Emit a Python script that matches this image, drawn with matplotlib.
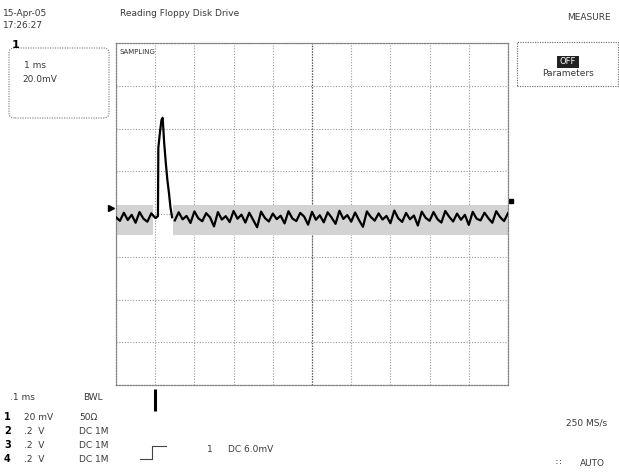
import numpy as np
import matplotlib
matplotlib.use("Agg")
import matplotlib.pyplot as plt
from matplotlib.patches import FancyBboxPatch, Rectangle

# ---------------- data (channel 1, 20 mV/div, 1 ms/div) ----------------
pre_t = [0.0, 0.1, 0.2, 0.3, 0.4, 0.5, 0.6, 0.7, 0.8, 0.9, 1.0]
pre_mv = [-1.5, -3.2, 0.6, -2.8, -0.4, -4.1, 0.9, -2.2, -3.6, 0.3, -1.8]

spike_t = [1.03, 1.07, 1.08, 1.12, 1.16, 1.19, 1.23, 1.27, 1.31, 1.35, 1.39, 1.43]
spike_mv = [-1.6, -1.0, 31.0, 38.0, 44.0, 45.0, 33.0, 24.0, 16.0, 10.0, 3.0, -1.5]

post_t = [round(1.5 + 0.1 * i, 2) for i in range(86)]
post_mv = [
    -3.0, 0.8, -2.5, -0.9, -4.2, 1.2, -2.0, -3.4, 0.4, -1.6,
    -5.8, 0.9, -2.6, -1.0, -3.8, 1.4, -2.2, -0.3, -4.0, 0.6,
    -2.8, -6.2, 1.1, -1.9, -3.5, 0.2, -2.4, -0.8, -4.4, 1.3,
    -2.1, -3.3, 0.5, -1.2, -5.0, 1.0, -2.7, -0.6, -3.9, 0.8,
    -1.7, -4.6, 1.5, -2.3, -0.5, -3.6, 0.7, -2.9, -6.0, 1.2,
    -1.4, -3.1, 0.3, -2.6, -0.9, -4.3, 1.6, -2.0, -3.7, 0.5,
    -2.5, -0.7, -5.4, 1.1, -1.8, -3.2, 0.9, -2.4, -4.0, 1.4,
    -1.3, -3.5, 0.2, -2.7, -0.4, -5.1, 1.0, -2.2, -3.0, 0.6,
    -2.0, -4.1, 1.3, -1.5, -3.3, 0.4,
]

# persistence (grey) envelope of the baseline
band_segments = [(0.0, 0.95), (1.45, 10.0)]
band_hi_mv = 4.0
band_lo_mv = -10.0

time_div_ms = 1.0
volt_div_mv = 20.0
n_xdiv = 10
n_ydiv = 8
trigger_time_ms = 1.0
trigger_level_mv = 6.0

# ---------------- figure ----------------
W, H = 619, 472
fig = plt.figure(figsize=(W / 100, H / 100), dpi=100)
fig.patch.set_facecolor("white")

L, R, T, B = 116, 508, 43, 385
ax = fig.add_axes([L / W, 1 - B / H, (R - L) / W, (B - T) / H])
ax.set_xlim(0, n_xdiv * time_div_ms)
ax.set_ylim(-n_ydiv / 2 * volt_div_mv, n_ydiv / 2 * volt_div_mv)
ax.set_xticks(np.arange(0, n_xdiv + 1) * time_div_ms)
ax.set_yticks(np.arange(-n_ydiv // 2, n_ydiv // 2 + 1) * volt_div_mv)
ax.tick_params(length=0, labelbottom=False, labelleft=False)
ax.grid(True, linestyle=(0, (1, 1.5)), color="#9a9a9a", linewidth=0.8)
for s in ax.spines.values():
    s.set_linestyle((0, (1, 1.2)))
    s.set_color("#808080")
    s.set_linewidth(0.9)
ax.axvline(n_xdiv / 2 * time_div_ms, color="#555555", lw=0.9, ls=(0, (1, 1.2)))

for a, b in band_segments:
    ax.fill_between([a, b], band_lo_mv, band_hi_mv, color="#d3d3d3", lw=0, zorder=2)

ax.plot(pre_t, pre_mv, color="black", lw=1.6, zorder=3)
ax.plot(spike_t, spike_mv, color="black", lw=1.6, zorder=3)
ax.plot(post_t, post_mv, color="black", lw=1.6, zorder=3)

# channel / trigger markers
ax.plot([-0.12], [trigger_level_mv / 2], marker=">", color="black", ms=4, clip_on=False)
ax.plot([10.08], [trigger_level_mv], marker="s", color="black", ms=2.5, clip_on=False)
ax.plot([trigger_time_ms, trigger_time_ms], [-82, -92], color="black", lw=2.2,
        clip_on=False, solid_capstyle="butt")

# ---------------- texts ----------------
fs = 6.5
tc = "#3a3a3a"


def ftext(x, y, s, **kw):
    kw.setdefault("fontsize", fs)
    kw.setdefault("color", tc)
    kw.setdefault("va", "center")
    fig.text(x / W, 1 - y / H, s, **kw)


ftext(3, 13, "15-Apr-05")
ftext(3, 26, "17:26:27")
ftext(120, 13, "Reading Floppy Disk Drive")
ftext(567, 18, "MEASURE")

# left info box
box = FancyBboxPatch((9 / W, 1 - 118 / H), 100 / W, 70 / H,
                     boxstyle="round,pad=0,rounding_size=0.01",
                     transform=fig.transFigure, fill=False,
                     ec="#777777", lw=0.8, ls=(0, (1, 1.2)))
fig.patches.append(box)
ftext(12, 45, "1", fontsize=8, color="black", fontweight="bold")
ftext(24, 66, "1 ms")
ftext(22, 80, "20.0mV")

# in-grid status label
ftext(119, 52, "SAMPLING", fontsize=5, color="#333333")

# right measure box
fig.patches.append(Rectangle((517 / W, 1 - 86 / H), 101 / W, 44 / H,
                             transform=fig.transFigure, fill=False,
                             ec="#666666", lw=0.8, ls=(0, (1, 1.2))))
fig.patches.append(Rectangle((557 / W, 1 - 68 / H), 22 / W, 12 / H,
                             transform=fig.transFigure, fc="#222222", ec="none"))
ftext(568, 62, "OFF", color="white", ha="center", fontsize=6)
ftext(568, 74, "Parameters", ha="center")

# bottom status
ftext(10, 398, ".1 ms")
ftext(83, 398, "BWL")
rows_y = [417, 431, 445, 459]
ch_names = ["1", "2", "3", "4"]
ch_scale = ["20 mV", ".2  V", ".2  V", ".2  V"]
ch_coupling = ["50\u03a9", "DC 1M", "DC 1M", "DC 1M"]
for y, n, s, c in zip(rows_y, ch_names, ch_scale, ch_coupling):
    ftext(4, y, n, color="black", fontweight="bold", fontsize=7)
    ftext(24, y, s)
    ftext(79, y, c)

# trigger edge icon
fig.lines.append(plt.Line2D([140 / W, 152 / W, 152 / W, 166 / W],
                            [1 - 459 / H, 1 - 459 / H, 1 - 446 / H, 1 - 446 / H],
                            transform=fig.transFigure, color="#444444", lw=0.8))
ftext(207, 450, "1")
ftext(228, 450, "DC 6.0mV")
ftext(566, 423, "250 MS/s")
ftext(555, 463, "\u2237", fontsize=6)
ftext(580, 463, "AUTO")

fig.savefig("out.png", dpi=100, facecolor="white")
